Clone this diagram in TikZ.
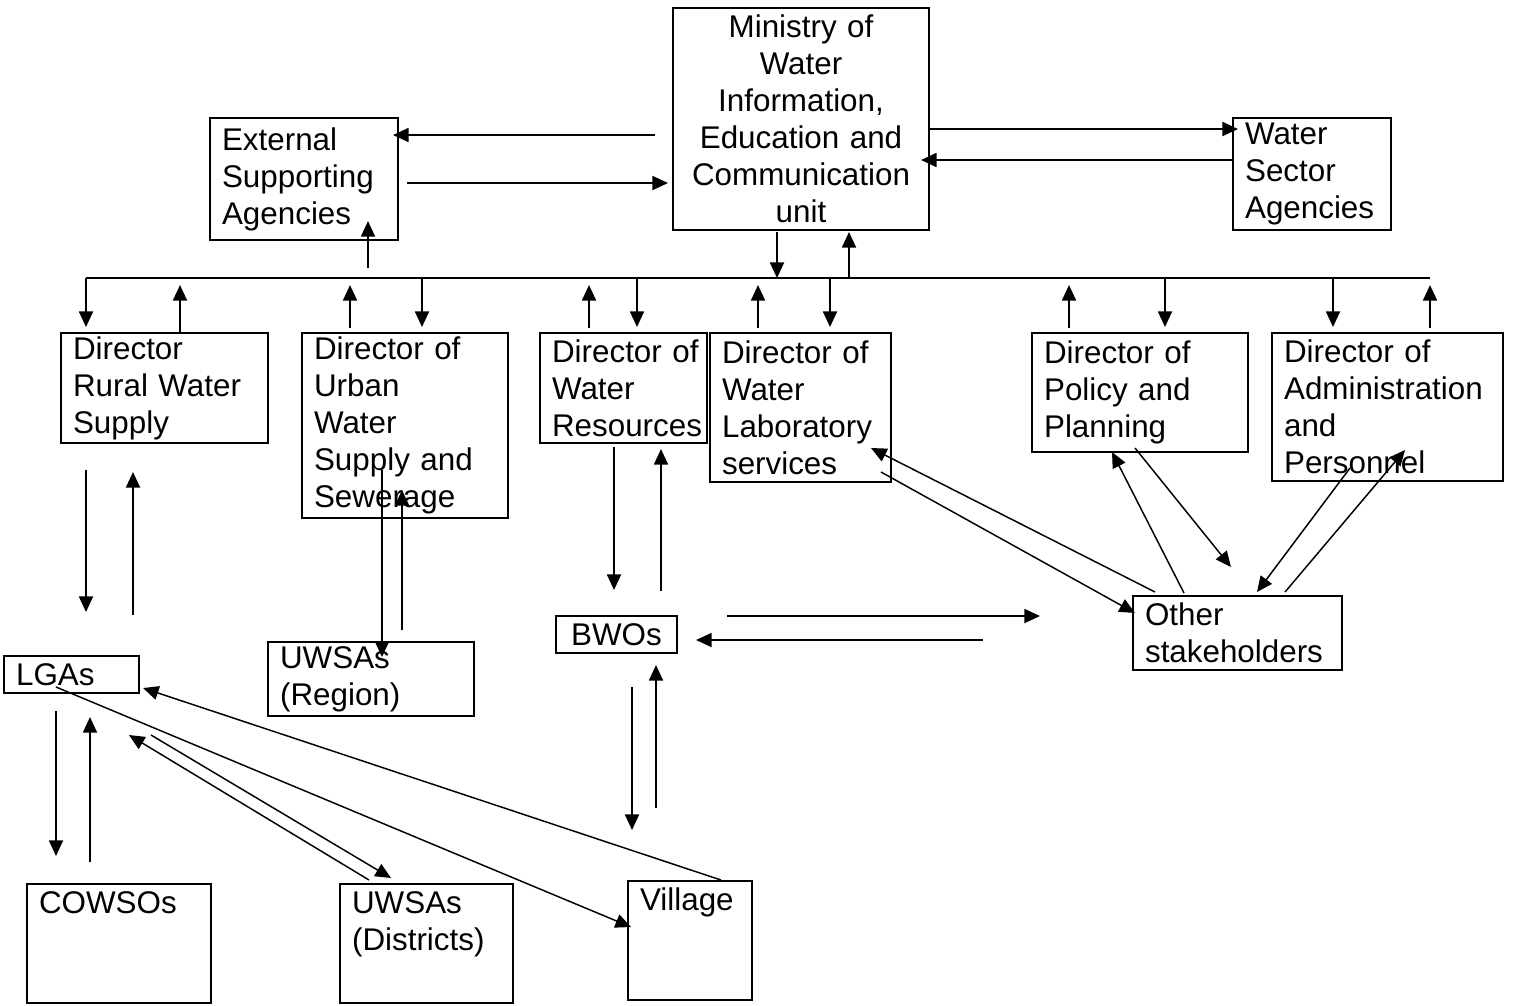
\documentclass[tikz,border=0pt]{standalone}
\usepackage{fontspec}
\setmainfont{Liberation Sans}
\usetikzlibrary{arrows.meta}
\newcommand{\boxfont}{\fontsize{11.7}{13.8}\selectfont}
\hfuzz=30pt

\begin{document}
\begin{tikzpicture}[x=0.373pt, y=-0.373pt,
		box/.style={draw, line width=0.75pt, anchor=north west, align=left, inner xsep=4.5pt, inner ysep=1pt, font=\boxfont},
		topbox/.style={box, text height=10pt, text depth=32.4pt},
		arr/.style={-{Triangle[length=5.8pt,width=5.2pt]}, line width=0.75pt},
		darr/.style={arr, line width=0.55pt}]
		\useasboundingbox (0,0) rectangle (1513,1005);
		
		\node[box, align=center, text width=86.5pt, minimum height=82.8pt] (ministry) at (672,7) {Ministry of\\Water\\Information,\\Education and\\Communication\\unit};
		\node[box, text width=61.1pt, minimum height=45.5pt] (external) at (209,117) {External\\Supporting\\Agencies};
		\node[box, text width=49.9pt, minimum height=41.8pt] (sector) at (1232,117) {Water\\Sector\\Agencies};
		
		\node[box, text width=68.2pt, minimum height=41pt] (rural) at (60,332) {Director\\Rural Water\\Supply};
		\node[box, text width=67.8pt, minimum height=69pt] (urban) at (301,332) {Director of\\Urban\\Water\\Supply and\\Sewerage};
		\node[box, text width=53.3pt, minimum height=41pt] (resources) at (539,332) {Director~of\\Water\\Resources};
		\node[box, text width=58.5pt, minimum height=55.6pt] (lab) at (709,332) {Director of\\Water\\Laboratory\\services};
		\node[box, text width=71.6pt, minimum height=44.4pt] (policy) at (1031,332) {Director of\\Policy and\\Planning};
		\node[box, text width=77.2pt, minimum height=55.2pt] (admin) at (1271,332) {Director of\\Administration\\and\\Personnel};
		
		\node[box, text width=69pt, minimum height=27.6pt] (other) at (1132,595) {Other\\stakeholders};
		\node[box, align=center, text width=36.1pt, minimum height=13.8pt] (bwo) at (555,615) {BWOs};
		\node[box, text width=41.4pt, minimum height=13.8pt] (lga) at (3,655) {LGAs};
		\node[box, text width=67.8pt, minimum height=27.6pt] (uwsareg) at (267,641) {UWSAs\\(Region)};
		
		\node[topbox, text width=59.6pt] (cowso) at (26,883) {COWSOs};
		\node[topbox, text width=55.5pt] (uwsadis) at (339,883) {UWSAs\\(Districts)};
		\node[topbox, text width=37.3pt] (village) at (627,880) {Village};
		
		\coordinate (busL) at (86,278);
		\coordinate (busR) at (1430,278);
		\coordinate (m2e1) at (655,135);
		\coordinate (m2e2) at (393,135);
		\coordinate (e2m1) at (407,183);
		\coordinate (e2m2) at (668,183);
		\coordinate (m2s1) at (928,129);
		\coordinate (m2s2) at (1238,129);
		\coordinate (s2m1) at (1232,160);
		\coordinate (s2m2) at (921,160);
		\coordinate (mdn1) at (777,232);
		\coordinate (mdn2) at (777,278);
		\coordinate (mup1) at (849,278);
		\coordinate (mup2) at (849,232);
		\coordinate (eup1) at (368,268);
		\coordinate (eup2) at (368,221);
		
		\coordinate (rdn) at (86,327);
		\coordinate (rup1) at (180,332);
		\coordinate (rup2) at (180,285);
		\coordinate (uup1) at (350,328);
		\coordinate (uup2) at (350,285);
		\coordinate (udn1) at (422,278);
		\coordinate (udn2) at (422,327);
		\coordinate (wup1) at (589,328);
		\coordinate (wup2) at (589,285);
		\coordinate (wdn1) at (637,278);
		\coordinate (wdn2) at (637,327);
		\coordinate (lup1) at (758,328);
		\coordinate (lup2) at (758,285);
		\coordinate (ldn1) at (830,278);
		\coordinate (ldn2) at (830,327);
		\coordinate (pup1) at (1069,328);
		\coordinate (pup2) at (1069,285);
		\coordinate (pdn1) at (1165,278);
		\coordinate (pdn2) at (1165,327);
		\coordinate (adn1) at (1333,278);
		\coordinate (adn2) at (1333,327);
		\coordinate (aup1) at (1430,328);
		\coordinate (aup2) at (1430,285);
		
		\coordinate (r2l1) at (86,470);
		\coordinate (r2l2) at (86,612);
		\coordinate (l2r1) at (133,615);
		\coordinate (l2r2) at (133,472);
		\coordinate (u2u1) at (382,470);
		\coordinate (u2u2) at (382,657);
		\coordinate (u2u3) at (402,630);
		\coordinate (u2u4) at (402,490);
		\coordinate (w2b1) at (614,447);
		\coordinate (w2b2) at (614,590);
		\coordinate (b2w1) at (661,591);
		\coordinate (b2w2) at (661,449);
		\coordinate (b2v1) at (632,687);
		\coordinate (b2v2) at (632,830);
		\coordinate (v2b1) at (656,808);
		\coordinate (v2b2) at (656,665);
		\coordinate (b2o1) at (727,616);
		\coordinate (b2o2) at (1040,616);
		\coordinate (o2b1) at (983,640);
		\coordinate (o2b2) at (696,640);
		
		\coordinate (l2c1) at (56,711);
		\coordinate (l2c2) at (56,856);
		\coordinate (c2l1) at (90,862);
		\coordinate (c2l2) at (90,717);
		\coordinate (l2v1) at (56,687);
		\coordinate (l2v2) at (631,927);
		\coordinate (v2l1) at (721,880);
		\coordinate (v2l2) at (143,688);
		\coordinate (d2l1) at (369,880);
		\coordinate (d2l2) at (129,735);
		\coordinate (l2d1) at (151,735);
		\coordinate (l2d2) at (391,878);
		
		\coordinate (lb2o1) at (881,472);
		\coordinate (lb2o2) at (1135,613);
		\coordinate (o2lb1) at (1155,592);
		\coordinate (o2lb2) at (871,448);
		\coordinate (o2p1) at (1184,593);
		\coordinate (o2p2) at (1112,452);
		\coordinate (p2o1) at (1135,448);
		\coordinate (p2o2) at (1231,567);
		\coordinate (a2o1) at (1350,468);
		\coordinate (a2o2) at (1257,592);
		\coordinate (o2a1) at (1285,592);
		\coordinate (o2a2) at (1405,450);
		
		\draw[line width=0.75pt] (busL) -- (busR);
		
		\path [arr] (m2e1) edge (m2e2);
		\path [arr] (e2m1) edge (e2m2);
		\path [arr] (m2s1) edge (m2s2);
		\path [arr] (s2m1) edge (s2m2);
		\path [arr] (mdn1) edge (mdn2);
		\path [arr] (mup1) edge (mup2);
		\path [arr] (eup1) edge (eup2);
		
		\path [arr] (busL) edge (rdn);
		\path [arr] (rup1) edge (rup2);
		\path [arr] (uup1) edge (uup2);
		\path [arr] (udn1) edge (udn2);
		\path [arr] (wup1) edge (wup2);
		\path [arr] (wdn1) edge (wdn2);
		\path [arr] (lup1) edge (lup2);
		\path [arr] (ldn1) edge (ldn2);
		\path [arr] (pup1) edge (pup2);
		\path [arr] (pdn1) edge (pdn2);
		\path [arr] (adn1) edge (adn2);
		\path [arr] (aup1) edge (aup2);
		
		\path [arr] (r2l1) edge (r2l2);
		\path [arr] (l2r1) edge (l2r2);
		\path [arr] (u2u1) edge (u2u2);
		\path [arr] (u2u3) edge (u2u4);
		\path [arr] (w2b1) edge (w2b2);
		\path [arr] (b2w1) edge (b2w2);
		\path [arr] (b2v1) edge (b2v2);
		\path [arr] (v2b1) edge (v2b2);
		\path [arr] (b2o1) edge (b2o2);
		\path [arr] (o2b1) edge (o2b2);
		
		\path [arr] (l2c1) edge (l2c2);
		\path [arr] (c2l1) edge (c2l2);
		\path [darr] (l2v1) edge (l2v2);
		\path [darr] (v2l1) edge (v2l2);
		\path [darr] (d2l1) edge (d2l2);
		\path [darr] (l2d1) edge (l2d2);
		
		\path [darr] (lb2o1) edge (lb2o2);
		\path [darr] (o2lb1) edge (o2lb2);
		\path [darr] (o2p1) edge (o2p2);
		\path [darr] (p2o1) edge (p2o2);
		\path [darr] (a2o1) edge (a2o2);
		\path [darr] (o2a1) edge (o2a2);
		
		\end{tikzpicture}
\end{document}
